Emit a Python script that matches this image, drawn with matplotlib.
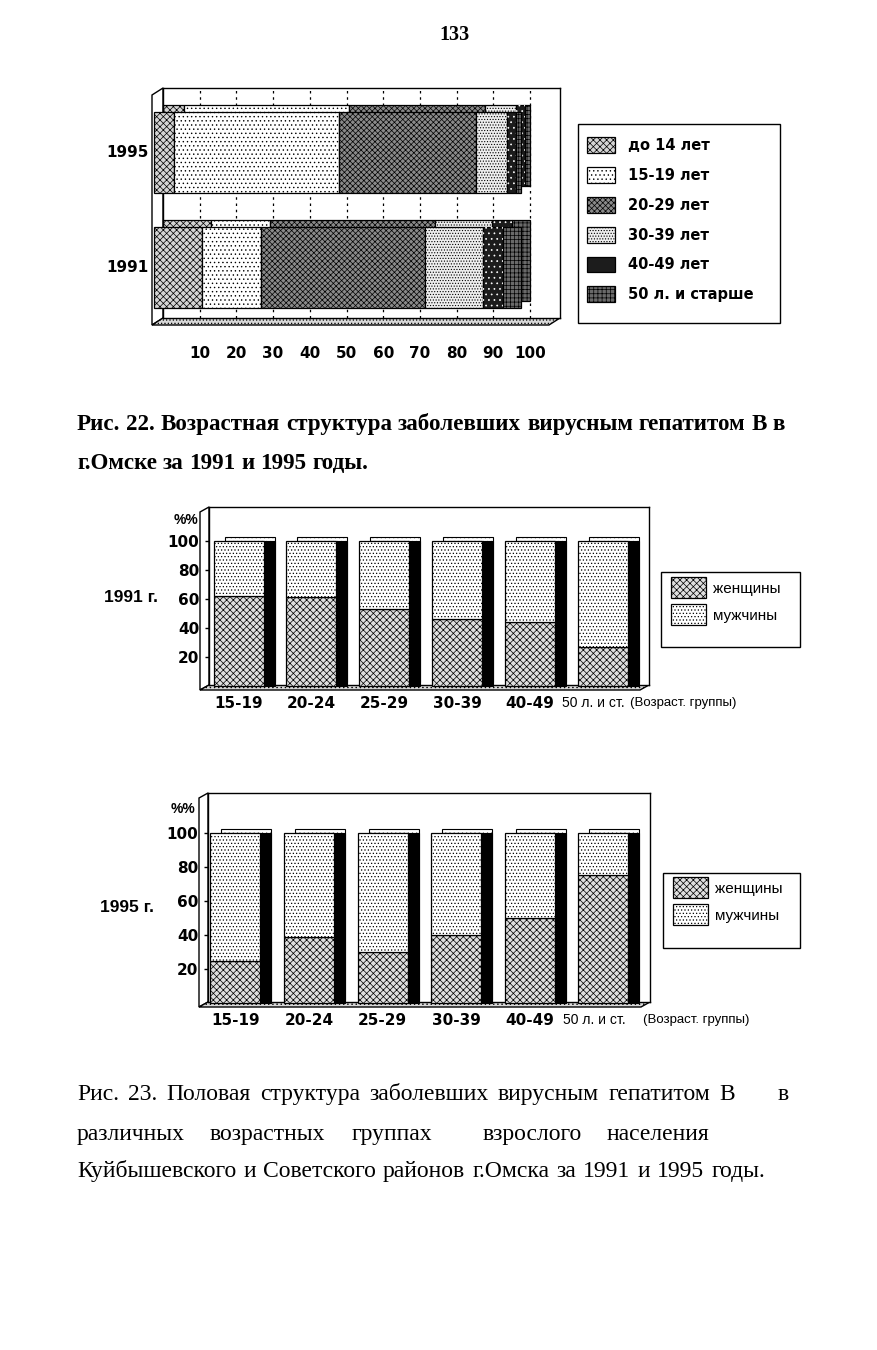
import matplotlib
matplotlib.use('Agg')
import matplotlib.pyplot as plt
from matplotlib.transforms import ScaledTranslation
from matplotlib.patches import Polygon, Rectangle
from matplotlib.font_manager import FontProperties

plt.rcParams['hatch.linewidth'] = 0.5
plt.rcParams['font.family'] = ['Liberation Sans', 'DejaVu Sans']

# ---------------- data ----------------
years = ['1991', '1995']
age_groups = ['до 14 лет', '15-19 лет', '20-29 лет', '30-39 лет', '40-49 лет', '50 л. и старше']
share_1991 = [13.2, 16.0, 44.8, 15.7, 5.5, 4.8]
share_1995 = [5.6, 45.0, 37.2, 8.4, 2.5, 1.3]
top_ticks = [10, 20, 30, 40, 50, 60, 70, 80, 90, 100]

sex_groups = ['15-19', '20-24', '25-29', '30-39', '40-49', '50 л. и ст.']
sex_labels = ['женщины', 'мужчины']
women_1991 = [62, 61, 53, 46, 44, 27]
men_1991 = [38, 39, 47, 54, 56, 73]
women_1995 = [25, 39, 30, 40, 50, 75]
men_1995 = [75, 61, 70, 60, 50, 25]
pct_ticks = [20, 40, 60, 80, 100]

# ---------------- figure ----------------
W, H, DPI = 878, 1350, 100
fig = plt.figure(figsize=(W / DPI, H / DPI), dpi=DPI)
fig.patch.set_facecolor('white')


def add_axes_px(x0, y0, x1, y1, **kw):
    return fig.add_axes([x0 / W, 1 - y1 / H, (x1 - x0) / W, (y1 - y0) / H], **kw)


def shifted(ax, dx, dy):
    return ax.transData + ScaledTranslation(dx / DPI, dy / DPI, fig.dpi_scale_trans)


def ftxt(x, y, s, **kw):
    return fig.text(x / W, 1 - y / H, s, **kw)


# page layer for the 3-D walls / frames
pg = add_axes_px(0, 0, W, H, zorder=-1)
pg.set_xlim(0, W)
pg.set_ylim(H, 0)
pg.axis('off')


def walls(box, dx, dy, floor_hatch='.....'):
    x0, y0, x1, y1 = box
    pg.add_patch(Polygon([(x0, y0), (x0 - dx, y0 + dy), (x0 - dx, y1 + dy), (x0, y1)],
                         closed=True, facecolor='white', edgecolor='black', lw=1))
    pg.add_patch(Polygon([(x0, y1), (x1, y1), (x1 - dx, y1 + dy), (x0 - dx, y1 + dy)],
                         closed=True, facecolor='#d8d8d8', edgecolor='black', lw=1,
                         hatch=floor_hatch))


SANS_B = FontProperties(family='DejaVu Sans', weight='bold')

# ---------------- page number ----------------
ftxt(455, 35, '133', ha='center', va='center', fontsize=14.5,
     family='Liberation Serif', weight='bold')

# ---------------- Fig. 22 ----------------
BOX1 = (163, 88, 560, 318)
walls(BOX1, 11, 7)
ax1 = add_axes_px(*BOX1)
ppu = (530 - 163) / 100
ax1.set_xlim(0, (BOX1[2] - BOX1[0]) / ppu)
ax1.set_ylim(-0.5, 1.5)
seg_styles = [
    dict(facecolor='#d4d4d4', hatch='xxxxx'),
    dict(facecolor='white', hatch='....'),
    dict(facecolor='#8a8a8a', hatch='xxxxxx'),
    dict(facecolor='#eeeeee', hatch='......'),
    dict(facecolor='#1c1c1c', hatch=None),
    dict(facecolor='#6a6a6a', hatch='++++'),
]
ypos = [0, 1]
shares = [share_1991, share_1995]
front_tr = shifted(ax1, -9.5, -7)
handles = []
for layer in ('back', 'front'):
    left = [0.0, 0.0]
    for i, grp in enumerate(age_groups):
        vals = [s[i] for s in shares]
        bars = ax1.barh(ypos, vals, left=left, height=0.7, edgecolor='black',
                        linewidth=0.9, zorder=2 if layer == 'back' else 3, **seg_styles[i])
        extra = []
        if i == 4:
            extra = ax1.barh(ypos, vals, left=left, height=0.7, fill=False,
                             edgecolor='white', hatch='...', linewidth=0,
                             zorder=2.1 if layer == 'back' else 3.1)
        for b in list(bars) + list(extra):
            b.set_clip_on(False)
            if layer == 'front':
                b.set_transform(front_tr)
        if layer == 'front':
            handles.append(bars)
        left = [l + v for l, v in zip(left, vals)]

ax1.set_xticks(top_ticks)
ax1.set_xticklabels([str(t) for t in top_ticks])
for lbl in ax1.get_xticklabels():
    lbl.set_fontproperties(SANS_B)
    lbl.set_fontsize(11)
ax1.tick_params(axis='x', length=0, pad=20)
ax1.set_yticks([])
ax1.grid(axis='x', color='black', linestyle=(0, (2, 3)), linewidth=0.9)
ax1.set_axisbelow(True)
for sp in ax1.spines.values():
    sp.set_linewidth(1)
for y, yr in zip(ypos, years):
    ax1.text(-1.4, y, yr, transform=front_tr, ha='right', va='center',
             fontproperties=SANS_B, fontsize=11, clip_on=False)

pg.add_patch(Rectangle((578, 124), 202, 199, facecolor='white', edgecolor='black', lw=1))
ax1.legend(handles, age_groups, loc='upper left',
           bbox_to_anchor=(587 / W, 1 - 137 / H), bbox_transform=fig.transFigure,
           frameon=False, borderpad=0, borderaxespad=0, handlelength=1.94,
           handleheight=1.3, labelspacing=0.96, handletextpad=0.84,
           prop=FontProperties(family='DejaVu Sans', weight='bold', size=10.5))

# ---------------- Fig. 23 charts ----------------
women_style = dict(facecolor='#dedede', hatch='xxxxx', edgecolor='black', linewidth=0.9)
men_style = dict(facecolor='white', hatch='.....', edgecolor='black', linewidth=0.9)


def sex_chart(box, xc0, step, y_zero, y_hund, women, men, year, year_xy, pct_xy,
              leg_box, leg_anchor, grp_label_x):
    x0, y0, x1, y1 = box
    walls(box, 9, 5, floor_hatch='....')
    ax = add_axes_px(*box)
    ppy = (y_zero - y_hund) / 100
    ax.set_xlim((x0 - xc0) / step, (x1 - xc0) / step)
    ax.set_ylim((y_zero - y1) / ppy, (y_zero - y0) / ppy)
    xs = list(range(len(sex_groups)))
    width = 50 / step
    totals = [w + m for w, m in zip(women, men)]
    top = ax.bar(xs, totals, width, facecolor='white', hatch='....', edgecolor='black',
                 linewidth=0.8, zorder=2)
    side = ax.bar(xs, totals, width, facecolor='black', edgecolor='black',
                  linewidth=0.8, zorder=2.5)
    for b in top:
        b.set_transform(shifted(ax, 11, 3.5))
        b.set_clip_on(False)
    for b in side:
        b.set_transform(shifted(ax, 11, 0))
        b.set_clip_on(False)
    wb = ax.bar(xs, women, width, zorder=3, **women_style)
    mb = ax.bar(xs, men, width, bottom=women, zorder=3, **men_style)
    for b in list(wb) + list(mb):
        b.set_clip_on(False)

    ax.set_yticks(pct_ticks)
    ax.set_yticklabels([str(t) for t in pct_ticks])
    for lbl in ax.get_yticklabels():
        lbl.set_fontproperties(SANS_B)
        lbl.set_fontsize(11)
    ax.tick_params(axis='y', direction='out', length=3, width=1, pad=4)
    ax.set_xticks(xs)
    ax.set_xticklabels(sex_groups)
    ax.tick_params(axis='x', length=0, pad=8)
    for k, lbl in enumerate(ax.get_xticklabels()):
        if k < len(xs) - 1:
            lbl.set_fontproperties(SANS_B)
            lbl.set_fontsize(11)
        else:
            lbl.set_fontproperties(FontProperties(family='Liberation Sans', size=10))
            lbl.set_transform(lbl.get_transform() +
                              ScaledTranslation(-9 / DPI, 0, fig.dpi_scale_trans))
    for sp in ax.spines.values():
        sp.set_linewidth(1)

    ftxt(grp_label_x, y1 + 18, '(Возраст. группы)', ha='left', va='center',
         fontsize=9.5, family='Liberation Sans')
    ftxt(pct_xy[0], pct_xy[1], '%%', ha='center', va='center',
         fontproperties=FontProperties(family='Liberation Sans', weight='bold', size=10))
    ftxt(year_xy[0], year_xy[1], year, ha='right', va='center',
         fontproperties=FontProperties(family='Liberation Sans', weight='bold', size=12.5))

    lx0, ly0, lx1, ly1 = leg_box
    pg.add_patch(Rectangle((lx0, ly0), lx1 - lx0, ly1 - ly0, facecolor='white',
                           edgecolor='black', lw=1))
    ax.legend([wb, mb], sex_labels, loc='upper left',
              bbox_to_anchor=(leg_anchor[0] / W, 1 - leg_anchor[1] / H),
              bbox_transform=fig.transFigure, frameon=False, borderpad=0,
              borderaxespad=0, handlelength=2.3, handleheight=1.75, labelspacing=0.4,
              handletextpad=0.45, prop=FontProperties(family='Liberation Sans', size=11))
    return ax


sex_chart((209, 507, 649, 685), 238.7, 72.8, 685.7, 540.7, women_1991, men_1991,
          '1991 г.', (158, 598), (186, 520), (661, 572, 800, 647), (671, 577), 630)
sex_chart((208, 793, 650, 1002), 235.3, 73.6, 1003.3, 832.7, women_1995, men_1995,
          '1995 г.', (154, 908), (183, 809), (663, 873, 800, 948), (673, 877), 643)

# ---------------- captions ----------------
renderer = fig.canvas.get_renderer()


def width_of(s, fp):
    t = fig.text(0, 0, s, fontproperties=fp)
    w = t.get_window_extent(renderer).width
    t.remove()
    return w


def fit_size(text, target, family, weight, max_size):
    size = 14.0
    for _ in range(4):
        fp = FontProperties(family=family, weight=weight, size=size)
        size *= target / width_of(text, fp)
    return min(size, max_size)


def put_line(words, x0, x1, y, fp, justify=True):
    widths = [width_of(w, fp) for w in words]
    space = width_of('a a', fp) - width_of('aa', fp)
    gap = (x1 - x0 - sum(widths)) / (len(words) - 1) if (justify and len(words) > 1) else space
    x = x0
    for w, wd in zip(words, widths):
        ftxt(x, y, w, fontproperties=fp, ha='left', va='baseline')
        x += wd + gap


cap1_l1 = 'Рис. 22. Возрастная структура заболевших вирусным гепатитом В в'
cap1_l2 = 'г.Омске за 1991 и 1995 годы.'
s1 = fit_size(cap1_l1, 708, 'Liberation Serif', 'bold', 17)
cap1 = FontProperties(family='Liberation Serif', weight='bold', size=s1)
put_line(cap1_l1.split(), 77, 785, 430, cap1)
put_line(cap1_l2.split(), 77, 0, 469, cap1, justify=False)

cap2_l1 = 'Рис. 23. Половая структура заболевших вирусным гепатитом В'
cap2_l3 = 'Куйбышевского и Советского районов г.Омска за 1991 и 1995 годы.'
s2 = min(fit_size(cap2_l1, 650, 'Liberation Serif', 'normal', 17),
         fit_size(cap2_l3, 680, 'Liberation Serif', 'normal', 17))
cap2 = FontProperties(family='Liberation Serif', size=s2)
put_line(cap2_l1.split(), 77, 735, 1100, cap2)
ftxt(778, 1100, 'в', fontproperties=cap2, ha='left', va='baseline')
for word, xw in zip('различных возрастных группах взрослого населения'.split(),
                    [77, 210, 352, 483, 607]):
    ftxt(xw, 1140, word, fontproperties=cap2, ha='left', va='baseline')
put_line(cap2_l3.split(), 77, 765, 1177, cap2)

fig.savefig('out.png', dpi=DPI, facecolor='white')
